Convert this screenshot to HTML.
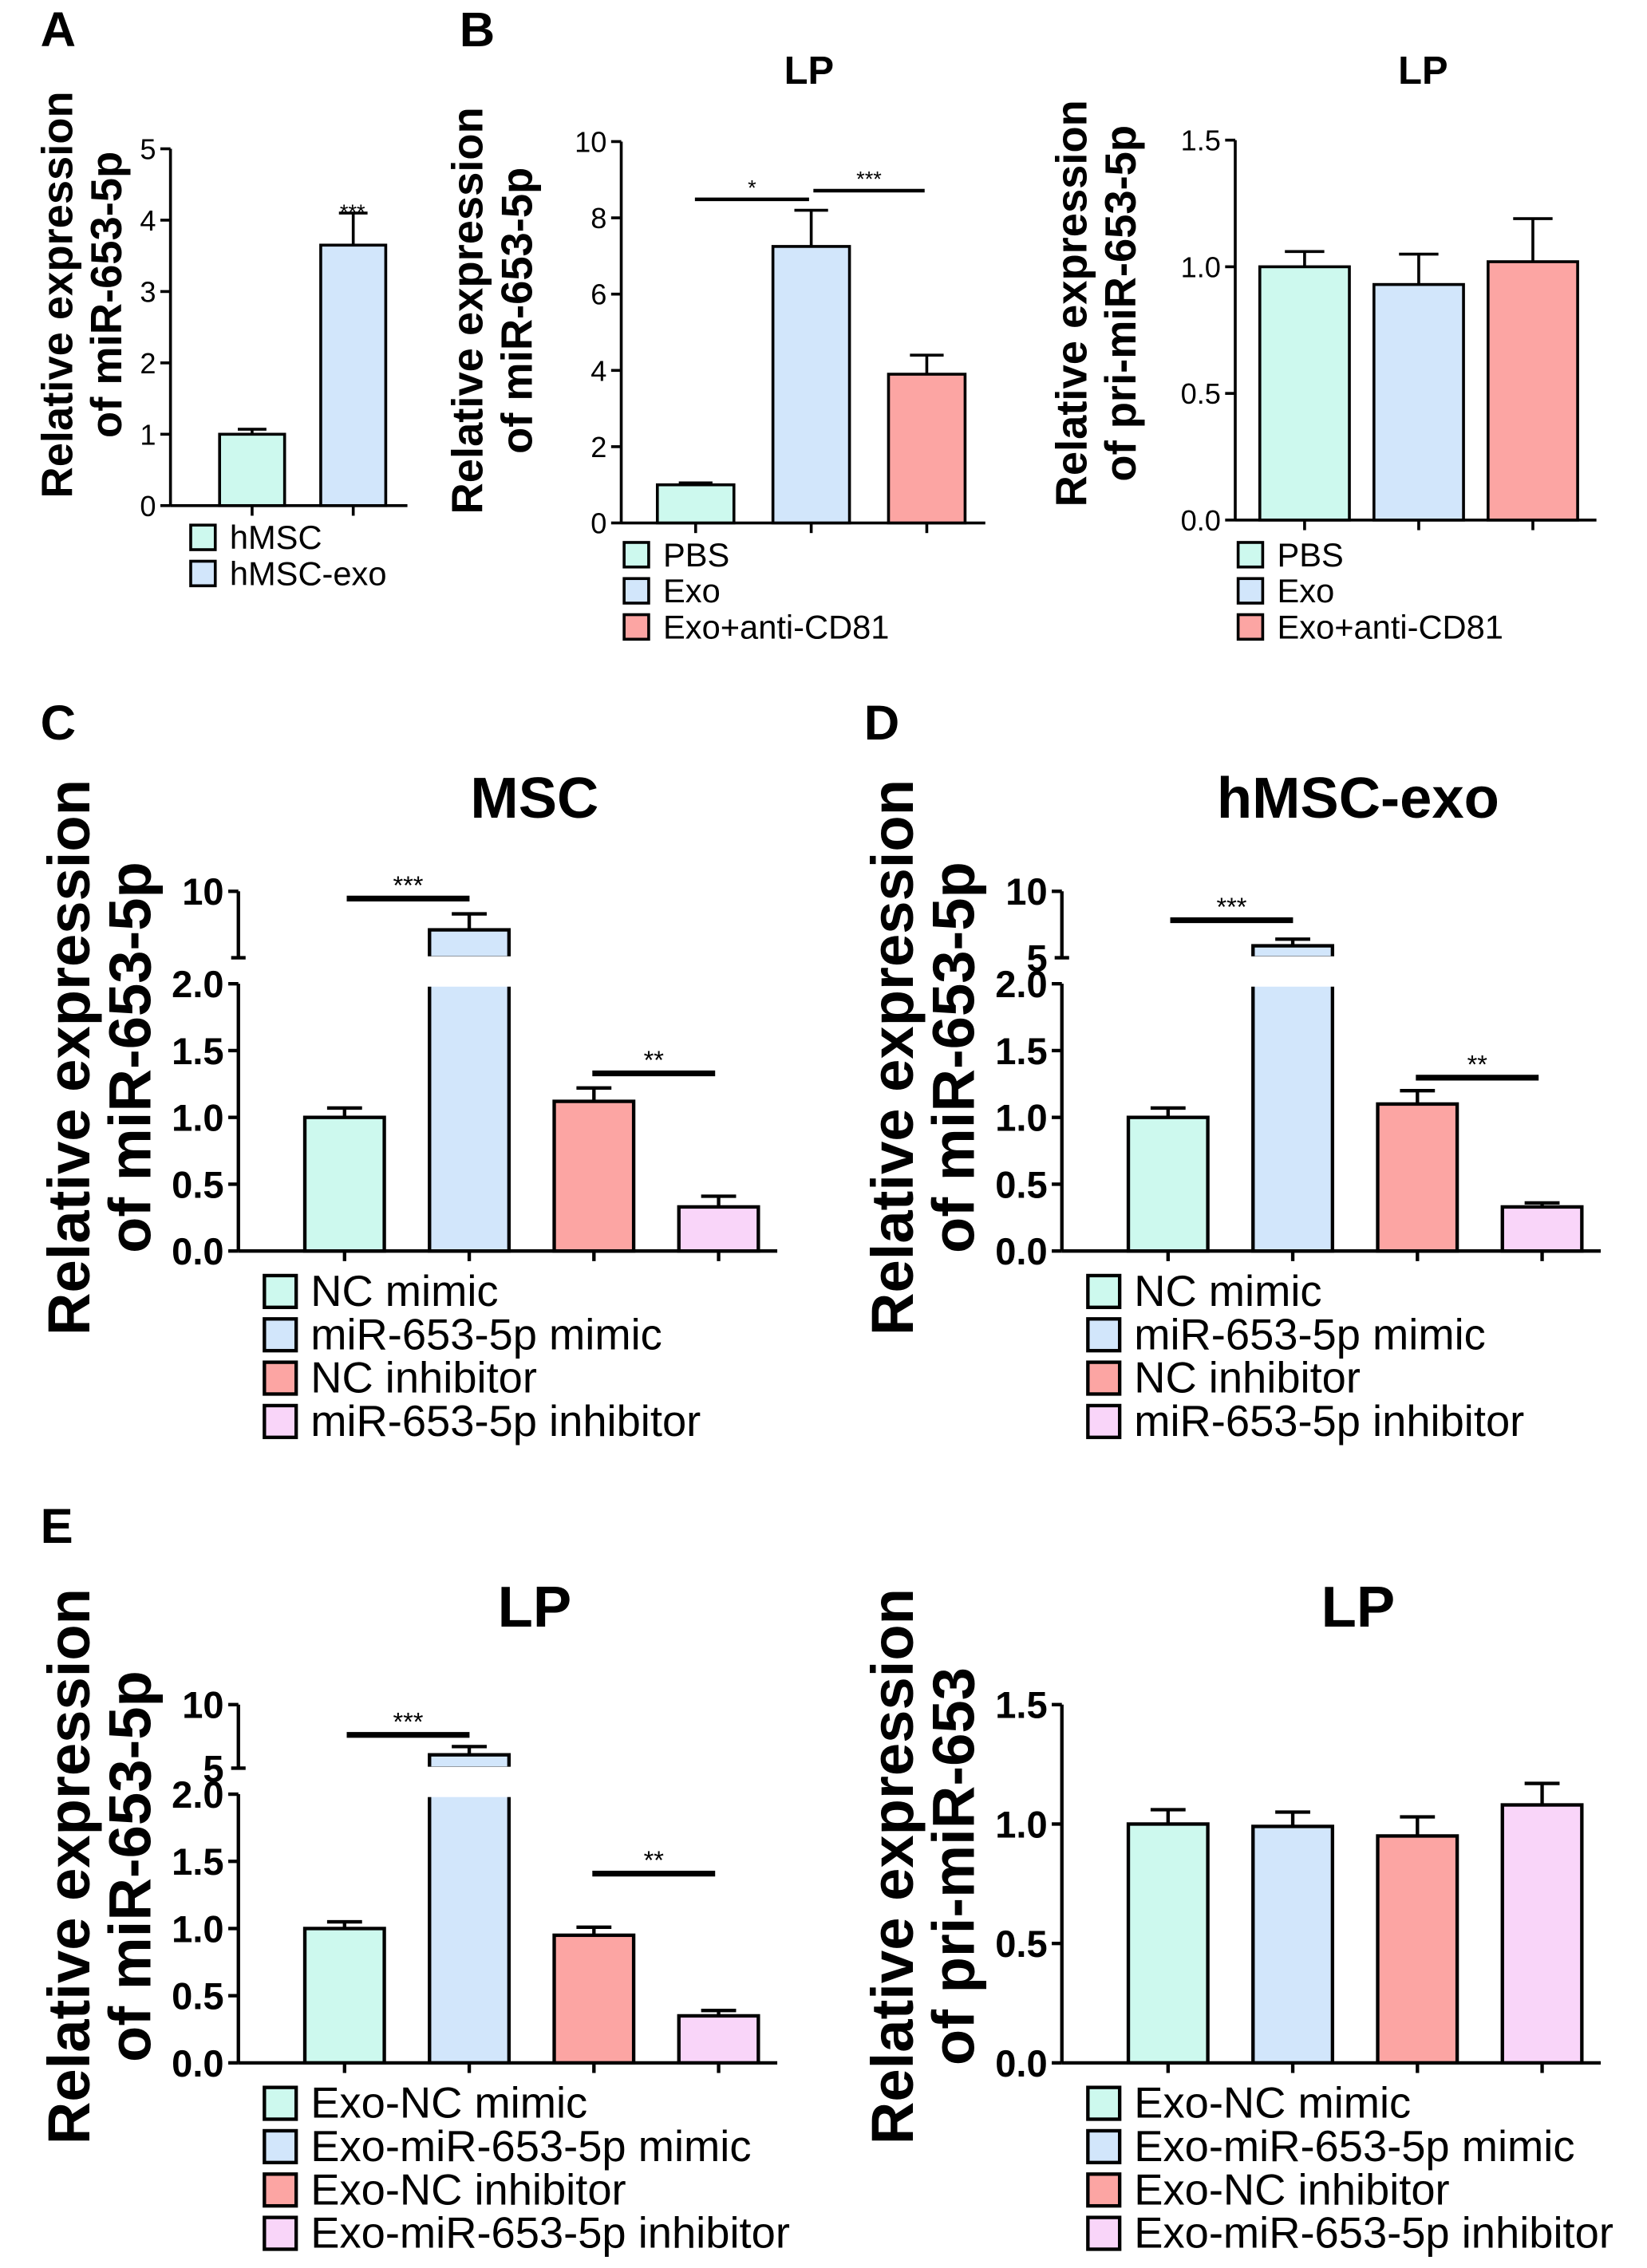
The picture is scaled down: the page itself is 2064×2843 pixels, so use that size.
<!DOCTYPE html>
<html><head><meta charset="utf-8"><style>
html,body{margin:0;padding:0;background:#fff}
svg{display:block}
text{font-family:"Liberation Sans",Arial,sans-serif;fill:#000}
</style></head><body>
<svg id="fig" width="2064" height="2843" viewBox="0 0 1140 1570" preserveAspectRatio="none" xmlns="http://www.w3.org/2000/svg"></svg>
<script>
const colors = ["#cdf9ee","#d2e6fb","#fca5a3","#f9d5f9"];
// Panel A
const aCats = ["hMSC","hMSC-exo"];
const aVals = [1.0,3.65];
const aErrs = [1.07,4.1];
const aTicks = [0,1,2,3,4,5];
// Panel B left
const bCats = ["PBS","Exo","Exo+anti-CD81"];
const bVals = [1.0,7.25,3.9];
const bErrs = [1.05,8.2,4.4];
const bTicks = [0,2,4,6,8,10];
// Panel B right
const b2Vals = [1.0,0.93,1.02];
const b2Errs = [1.06,1.05,1.19];
const b2Ticks = [0,0.5,1.0,1.5];
// Panel C
const cCats = ["NC mimic","miR-653-5p mimic","NC inhibitor","miR-653-5p inhibitor"];
const cVals = [1.0,7.1,1.12,0.33];
const cErrs = [1.07,8.3,1.22,0.41];
// Panel D
const dVals = [1.0,5.9,1.1,0.33];
const dErrs = [1.07,6.4,1.2,0.36];
// Panel E
const eCats = ["Exo-NC mimic","Exo-miR-653-5p mimic","Exo-NC inhibitor","Exo-miR-653-5p inhibitor"];
const eVals = [1.0,6.05,0.95,0.35];
const eErrs = [1.05,6.7,1.01,0.39];
const e2Vals = [1.0,0.99,0.95,1.08];
const e2Errs = [1.06,1.05,1.03,1.17];
const lowTicks = [0,0.5,1.0,1.5,2.0];

const svg = document.getElementById('fig');
const NS = "http://www.w3.org/2000/svg";
function mk(tag, attrs, parent, txt){
  const e = document.createElementNS(NS, tag);
  for (const k in attrs) e.setAttribute(k, attrs[k]);
  if (txt !== undefined) e.textContent = txt;
  (parent||svg).appendChild(e);
  return e;
}
function fmt(v, dec){ return dec ? v.toFixed(1) : String(v); }

function panel(p){
  const g = mk('g', {});
  
  
  const lowMax = p.lowMax;
  const yL = v => p.y0 - (v / lowMax) * (p.y0 - p.yTop);
  const yU = v => p.ub - (v - p.uMin) / (p.uMax - p.uMin) * (p.ub - p.ut);
  const sw = p.big ? 2.4 : 2;
  const ax = mk('line', {x1:p.ax, y1:p.y0, x2:p.ax, y2:p.yTop, stroke:'#000','stroke-width':sw}, g);
  
  
  p.ticks.forEach(t => {
    const y = yL(t);
    mk('line', {x1:p.ax-7, y1:y, x2:p.ax, y2:y, stroke:'#000','stroke-width':sw}, g);
    const tl = mk('text', {x:p.ax-10, y:y+p.tf*0.36, 'text-anchor':'end','font-size':p.tf,'font-weight':p.big?'bold':'normal'}, g, fmt(t, p.dec));
    
    
  });
  if (p.broken){
    mk('line', {x1:p.ax, y1:p.ut, x2:p.ax, y2:p.ub, stroke:'#000','stroke-width':sw}, g);
    mk('line', {x1:p.ax-7, y1:p.ut, x2:p.ax, y2:p.ut, stroke:'#000','stroke-width':sw}, g);
    mk('line', {x1:p.ax-5, y1:p.ub, x2:p.ax+5, y2:p.ub, stroke:'#000','stroke-width':sw}, g);
    p.uLabels.forEach(t => {
      const y = yU(t);
      const tl = mk('text', {x:p.ax-10, y:y+p.tf*0.36, 'text-anchor':'end','font-size':p.tf,'font-weight':'bold'}, g, String(t));
      
      
    });
  }
  const xa = mk('line', {x1:p.ax, y1:p.y0, x2:p.xEnd, y2:p.y0, stroke:'#000','stroke-width':sw}, g);
  
  
  p.vals.forEach((v, i) => {
    const x = p.bx0 + i * p.step, w = p.bw, cx = x + w/2;
    mk('line', {x1:cx, y1:p.y0, x2:cx, y2:p.y0+7, stroke:'#000','stroke-width':sw}, g);
    let top, etop;
    if (p.broken && v > lowMax){
      top = yU(v); etop = yU(p.errs[i]);
      const r1 = mk('rect', {x:x, y:p.yTop, width:w, height:p.y0-p.yTop, fill:colors[i], stroke:'#000','stroke-width':sw}, g);
      
      
      mk('rect', {x:x-2, y:p.yTop-2, width:w+4, height:4, fill:'#fff'}, g);
      const r2 = mk('rect', {x:x, y:top, width:w, height:p.ub-top, fill:colors[i], stroke:'#000','stroke-width':sw}, g);
      
      
      mk('rect', {x:x-2, y:p.ub-1, width:w+4, height:4, fill:'#fff'}, g);
    } else {
      top = yL(v); etop = yL(p.errs[i]);
      const r = mk('rect', {x:x, y:top, width:w, height:p.y0-top, fill:colors[i], stroke:'#000','stroke-width':sw}, g);
      
      
    }
    const eb = mk('path', {d:`M${cx},${top}V${etop}M${cx-w*0.22},${etop}H${cx+w*0.22}`, stroke:'#000','stroke-width':sw, fill:'none'}, g);
    
    
  });
  (p.sig||[]).forEach(s => {
    const l = mk('line', {x1:s[0], y1:s[2], x2:s[1], y2:s[2], stroke:'#000','stroke-width':p.big?4:2.5}, g);
    
    
    const t = mk('text', {x:(s[0]+s[1])/2, y:s[2]-3, 'text-anchor':'middle','font-size':p.big?18:15}, g, s[3]);
    
    
  });
  if (p.title){
    const t = mk('text', {x:p.tx, y:p.ty, 'text-anchor':'middle','font-size':p.big?40:27,'font-weight':'bold'}, g, p.title);
    
    
  }
  const yf = p.big ? 41 : 30;
  p.ylab.forEach((s, k) => {
    const x = p.ylx[k];
    const t = mk('text', {x:x, y:p.ylc, transform:`rotate(-90 ${x} ${p.ylc})`, 'text-anchor':'middle','font-size':yf,'font-weight':'bold'}, g, s);
    
    
  });
  p.cats.forEach((c, i) => {
    const y = p.ly + i * p.lstep, sz = p.big ? 22 : 17;
    const r = mk('rect', {x:p.lx, y:y - sz/2, width:sz, height:sz, fill:colors[i], stroke:'#000','stroke-width':sw}, g);
    
    
    const t = mk('text', {x:p.lx + sz + 10, y:y + (p.big?10:8), 'font-size':p.big?30:23}, g, c);
    
    
  });
}
function letter(s, x, y){
  const t = mk('text', {x:x, y:y, 'font-size':34, 'font-weight':'bold'}, svg, s);
  
  
}
letter('A', 28, 32); letter('B', 318, 32); letter('C', 28, 512); letter('D', 598, 512); letter('E', 28, 1068);

panel({name:'panel-a', ax:118, y0:350, yTop:103, lowMax:5, ticks:aTicks, tf:20, xEnd:282,
  vals:aVals, errs:aErrs, bx0:152, step:70, bw:45,
  ylab:['Relative expression','of miR-653-5p'], ylx:[50,84], ylc:204,
  cats:aCats, lx:132, ly:372, lstep:25});
mk('text',{x:244,y:152,'text-anchor':'middle','font-size':15},svg,'***');
panel({name:'panel-b-left', ax:430, y0:362, yTop:98, lowMax:10, ticks:bTicks, tf:20, xEnd:682,
  vals:bVals, errs:bErrs, bx0:455, step:80, bw:53,
  sig:[[481,560,138,'*'],[563,640,132,'***']], title:'LP', tx:560, ty:58,
  ylab:['Relative expression','of miR-653-5p'], ylx:[334,368], ylc:215,
  cats:bCats, lx:432, ly:384, lstep:25});
panel({name:'panel-b-right', ax:855, y0:360, yTop:97, lowMax:1.5, ticks:b2Ticks, dec:true, tf:20, xEnd:1105,
  vals:b2Vals, errs:b2Errs, bx0:872, step:79, bw:62, title:'LP', tx:985, ty:58,
  ylab:['Relative expression','of pri-miR-653-5p'], ylx:[752,786], ylc:210,
  cats:bCats, lx:857, ly:384, lstep:25});
panel({name:'panel-c', big:true, ax:165, y0:866, yTop:681, lowMax:2, ticks:lowTicks, dec:true, tf:26, xEnd:538,
  broken:true, ub:663, ut:617, uMin:5, uMax:10, uLabels:[10],
  vals:cVals, errs:cErrs, bx0:211, step:86.3, bw:55,
  sig:[[240,325,622,'***'],[410,495,743,'**']], title:'MSC', tx:370, ty:566,
  ylab:['Relative expression','of miR-653-5p'], ylx:[62,104], ylc:732,
  cats:cCats, lx:183, ly:894, lstep:30});
panel({name:'panel-d', big:true, ax:735, y0:866, yTop:681, lowMax:2, ticks:lowTicks, dec:true, tf:26, xEnd:1108,
  broken:true, ub:663, ut:617, uMin:5, uMax:10, uLabels:[10,5],
  vals:dVals, errs:dErrs, bx0:781, step:86.3, bw:55,
  sig:[[810,895,637,'***'],[980,1065,746,'**']], title:'hMSC-exo', tx:940, ty:566,
  ylab:['Relative expression','of miR-653-5p'], ylx:[632,674], ylc:732,
  cats:cCats, lx:753, ly:894, lstep:30});
panel({name:'panel-e-left', big:true, ax:165, y0:1428, yTop:1242, lowMax:2, ticks:lowTicks, dec:true, tf:26, xEnd:538,
  broken:true, ub:1224, ut:1180, uMin:5, uMax:10, uLabels:[10,5],
  vals:eVals, errs:eErrs, bx0:211, step:86.3, bw:55,
  sig:[[240,325,1201,'***'],[410,495,1297,'**']], title:'LP', tx:370, ty:1126,
  ylab:['Relative expression','of miR-653-5p'], ylx:[62,104], ylc:1292,
  cats:eCats, lx:183, ly:1456, lstep:30});
panel({name:'panel-e-right', big:true, ax:735, y0:1428, yTop:1180, lowMax:1.5, ticks:b2Ticks, dec:true, tf:26, xEnd:1108,
  vals:e2Vals, errs:e2Errs, bx0:781, step:86.3, bw:55, title:'LP', tx:940, ty:1126,
  ylab:['Relative expression','of pri-miR-653'], ylx:[632,674], ylc:1292,
  cats:eCats, lx:753, ly:1456, lstep:30});
</script>
</body></html>
